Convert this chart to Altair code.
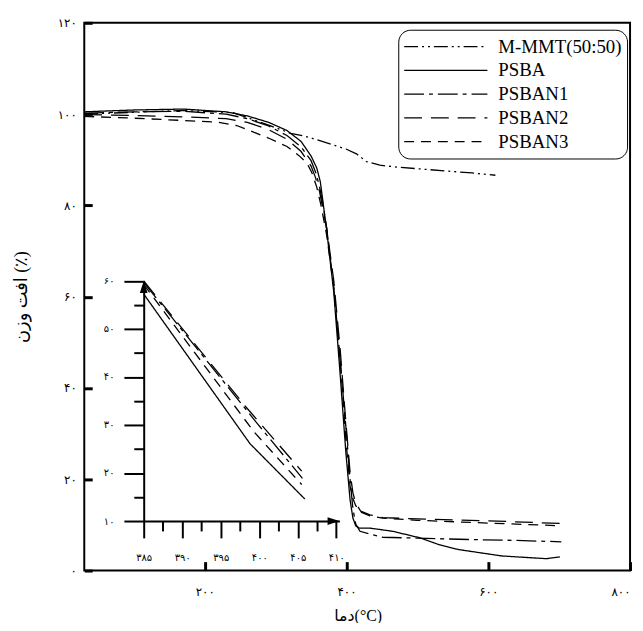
import altair as alt
import pandas as pd

# ---------------- data ----------------
series_names = ["M-MMT(50:50)", "PSBA", "PSBAN1", "PSBAN2", "PSBAN3"]
series_dash = [[14, 4, 2, 4, 2, 4], [1, 0], [20, 5, 4, 5], [18, 9], [10, 7]]

mmt_t = [30, 100, 170, 240, 290, 321, 340, 358, 382, 400, 414, 428, 447, 470, 544, 577, 610]
mmt_w = [100.0, 100.4, 100.8, 100.3, 97.6, 95.8, 95.2, 94.4, 93.2, 92.3, 91.3, 89.6, 88.8, 88.4, 87.5, 87.1, 86.6]

psba_t = [30, 100, 170, 230, 260, 290, 316, 336, 350, 358, 363, 367, 372, 382, 391, 399, 405, 409, 413, 418, 433, 465, 503, 530, 558, 619, 682, 701]
psba_w = [100.5, 100.9, 101.1, 100.5, 99.6, 98.2, 96.4, 94.0, 90.8, 88.2, 85.2, 80.5, 74.5, 61.0, 43.0, 26.0, 15.5, 11.5, 9.8, 9.3, 9.3, 8.6, 7.2, 5.7, 4.6, 3.2, 2.6, 3.0]

psban1_t = [30, 100, 170, 230, 260, 290, 316, 336, 350, 357, 362, 367, 372, 382, 391, 400, 405, 409, 413, 419, 433, 451, 500, 573, 640, 703]
psban1_w = [100.2, 100.5, 100.6, 100.0, 99.0, 97.4, 95.3, 92.8, 89.8, 87.0, 84.0, 80.0, 75.0, 62.0, 46.0, 29.8, 20.0, 13.5, 10.2, 8.6, 8.0, 7.3, 7.1, 6.8, 6.6, 6.3]

psban2_t = [30, 100, 170, 230, 260, 290, 316, 336, 350, 356, 362, 367, 372, 382, 391, 398, 405, 409, 413, 420, 433, 451, 500, 600, 703]
psban2_w = [99.9, 99.7, 99.4, 99.0, 98.2, 96.6, 94.5, 91.8, 88.6, 86.2, 83.0, 79.0, 75.0, 63.5, 48.5, 34.5, 21.5, 17.0, 14.8, 13.0, 12.2, 11.6, 11.3, 10.9, 10.3]

psban3_t = [30, 100, 170, 220, 245, 268, 292, 316, 333, 344, 351, 358, 364, 372, 382, 391, 399, 405, 409, 413, 420, 433, 451, 500, 600, 703]
psban3_w = [99.5, 99.1, 98.6, 98.2, 97.5, 96.1, 94.6, 92.9, 90.9, 89.3, 87.2, 84.0, 80.0, 73.5, 62.0, 46.5, 28.8, 18.5, 15.8, 14.2, 12.8, 12.0, 11.5, 11.0, 10.4, 9.8]

# inset (zoom of the drop region)
in_psba_t = [385, 398.8, 405.9]
in_psba_w = [57.3, 26.1, 14.6]
in_psban1_t = [385, 399.8, 405.6]
in_psban1_w = [59.7, 30.2, 18.9]
in_psban2_t = [385, 398.3, 405.5]
in_psban2_w = [60.0, 33.7, 20.4]
in_psban3_t = [385, 399.3, 405.5]
in_psban3_w = [59.3, 28.6, 17.6]

x_tick_values = [200, 400, 600, 800]
x_tick_labels = ["۲۰۰", "۴۰۰", "۶۰۰", "۸۰۰"]
y_tick_values = [0, 20, 40, 60, 80, 100, 120]
y_tick_labels = ["۰", "۲۰", "۴۰", "۶۰", "۸۰", "۱۰۰", "۱۲۰"]

in_x_values = [385, 387.5, 390, 392.5, 395, 397.5, 400, 402.5, 405, 407.5, 410]
in_x_major = [385, 390, 395, 400, 405, 410]
in_x_labels = ["۳۸۵", "۳۹۰", "۳۹۵", "۴۰۰", "۴۰۵", "۴۱۰"]
in_y_values = [10, 15, 20, 25, 30, 35, 40, 45, 50, 55, 60]
in_y_major = [10, 20, 30, 40, 50, 60]
in_y_labels = ["۱۰", "۲۰", "۳۰", "۴۰", "۵۰", "۶۰"]

x_title = "دما(°C)"
y_title = "افت وزن (٪)"

X_MIN, X_MAX = 30, 800
Y_MIN, Y_MAX = 0, 120

# ---------------- helpers ----------------
def label_expr(vals, labs):
    return " : ".join(f"datum.value == {v} ? '{l}'" for v, l in zip(vals, labs)) + " : ''"

def frame(pairs):
    rows = []
    for name, ts, ws in pairs:
        for t, w in zip(ts, ws):
            rows.append({"series": name, "t": t, "w": w})
    return pd.DataFrame(rows)

main_df = frame([
    ("M-MMT(50:50)", mmt_t, mmt_w),
    ("PSBA", psba_t, psba_w),
    ("PSBAN1", psban1_t, psban1_w),
    ("PSBAN2", psban2_t, psban2_w),
    ("PSBAN3", psban3_t, psban3_w),
])
inset_df = frame([
    ("PSBA", in_psba_t, in_psba_w),
    ("PSBAN1", in_psban1_t, in_psban1_w),
    ("PSBAN2", in_psban2_t, in_psban2_w),
    ("PSBAN3", in_psban3_t, in_psban3_w),
])

W, H = 551, 553
FA = "DejaVu Sans"
TITLE_FONT = "Liberation Serif, DejaVu Sans"
XT, YT = 9, 8   # inward tick lengths of the frame axes

dash_scale = alt.Scale(domain=series_names, range=series_dash)

x_main_scale = alt.Scale(domain=[X_MIN, X_MAX], nice=False, zero=False)
y_main_scale = alt.Scale(domain=[Y_MIN, Y_MAX], nice=False, zero=False)

# The frame axes are pulled inside by their tick length, so the ticks point into the plot.
x_main = alt.X(
    "t:Q", scale=x_main_scale,
    axis=alt.Axis(orient="bottom", offset=-XT, values=x_tick_values,
                  labelExpr=label_expr(x_tick_values, x_tick_labels),
                  ticks=True, tickSize=XT, tickWidth=3, tickColor="black", tickCap="butt",
                  domain=False, grid=False, labelPadding=16, labelFontSize=12,
                  labelFont=FA, labelColor="black", labelFlush=True, labelOverlap=False,
                  title=x_title, titleX=276, titleY=45 + XT, titleFont=TITLE_FONT, titleFontSize=16,
                  titleFontWeight="normal", titleColor="black", titleBaseline="middle",
                  titleAlign="center"),
)
y_main = alt.Y(
    "w:Q", scale=y_main_scale,
    axis=alt.Axis(orient="left", offset=-YT, values=y_tick_values,
                  labelExpr=label_expr(y_tick_values, y_tick_labels),
                  ticks=True, tickSize=YT, tickWidth=3, tickColor="black", tickCap="butt",
                  domain=False, grid=False, labelPadding=8, labelFontSize=12,
                  labelFont=FA, labelColor="black", labelFlush=False, labelOverlap=False,
                  title=y_title, titleX=-63 - YT, titleY=276.5, titleAngle=270, titleFont=TITLE_FONT,
                  titleFontSize=18, titleFontWeight="normal", titleColor="black",
                  titleBaseline="middle", titleAlign="center"),
)

legend = alt.Legend(
    orient="none", legendX=317, legendY=7, title=None, symbolType="stroke",
    symbolSize=7056, symbolStrokeWidth=1.4, symbolStrokeColor="black",
    labelFont="Liberation Serif", labelFontSize=19, labelColor="black", labelOffset=10,
    labelLimit=300, strokeColor="black", cornerRadius=12, padding=5, rowPadding=0,
    clipHeight=24, fillColor="white",
)

lines = alt.Chart(main_df).mark_line(color="black", strokeWidth=1.3, strokeCap="butt").encode(
    x=x_main, y=y_main,
    strokeDash=alt.StrokeDash("series:N", scale=dash_scale, legend=legend),
)

# ---------------- inset ----------------
x_in_scale = alt.Scale(domain=[385, 410.4], range=[60, 257.6], nice=False, zero=False)
y_in_scale = alt.Scale(domain=[10, 60], range=[503, 260.7], nice=False, zero=False)

x_in = alt.X(
    "t:Q", scale=x_in_scale,
    axis=alt.Axis(orient="bottom", offset=-50, values=in_x_values,
                  labelExpr=label_expr(in_x_major, in_x_labels),
                  tickSize={"condition": {"test": "datum.value % 5 === 0", "value": 17}, "value": 10},
                  tickWidth=2, tickColor="black", domainColor="black", domainWidth=2,
                  labelFont=FA, labelFontSize=10, labelColor="black", labelPadding=15,
                  labelFlush=False, labelOverlap=False, grid=False, title=None),
)
y_in = alt.Y(
    "w:Q", scale=y_in_scale,
    axis=alt.Axis(orient="left", offset=-60, values=in_y_values,
                  labelExpr=label_expr(in_y_major, in_y_labels),
                  tickSize={"condition": {"test": "datum.value % 10 === 0", "value": 20}, "value": 10},
                  tickWidth=2, tickColor="black", domainColor="black", domainWidth=2,
                  labelFont=FA, labelFontSize=10, labelColor="black", labelPadding=10,
                  labelFlush=False, labelOverlap=False, grid=False, title=None),
)

inset_lines = alt.Chart(inset_df).mark_line(color="black", strokeWidth=1.3, strokeCap="butt").encode(
    x=x_in, y=y_in,
    strokeDash=alt.StrokeDash("series:N", scale=dash_scale, legend=None),
)

arrow_up = alt.Chart(pd.DataFrame({"t": [385], "w": [60]})).mark_point(
    shape="M0,-1L0.65,1L-0.65,1Z", filled=True, color="black", opacity=1, size=144, yOffset=6
).encode(x=alt.X("t:Q", scale=x_in_scale, axis=None), y=alt.Y("w:Q", scale=y_in_scale, axis=None))

arrow_right = alt.Chart(pd.DataFrame({"t": [410.4], "w": [10]})).mark_point(
    shape="M1,0L-1,-0.65L-1,0.65Z", filled=True, color="black", opacity=1, size=144, xOffset=-6
).encode(x=alt.X("t:Q", scale=x_in_scale, axis=None), y=alt.Y("w:Q", scale=y_in_scale, axis=None))

chart = alt.layer(
    lines, inset_lines, arrow_up, arrow_right
).resolve_scale(
    x="independent", y="independent"
).properties(
    width=W, height=H,
    padding={"left": 77, "top": 12, "right": 5, "bottom": 50},
    autosize=alt.AutoSizeParams(type="none"),
).configure_view(stroke="black", strokeWidth=2)

chart.save("out.html", embed_options={"renderer": "svg", "actions": False})
